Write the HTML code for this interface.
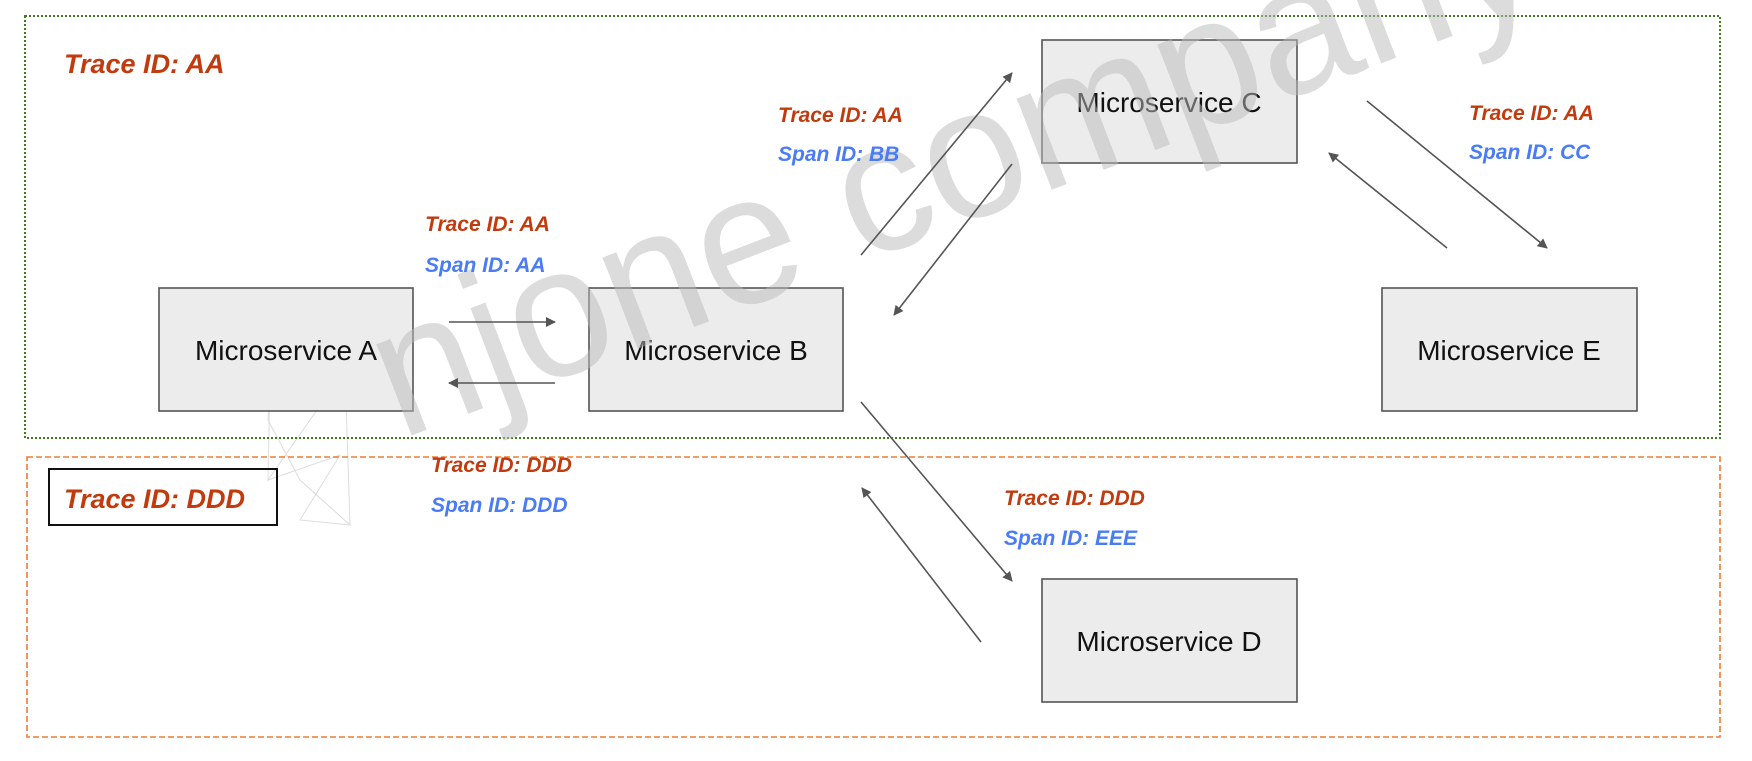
<!DOCTYPE html>
<html><head><meta charset="utf-8"><style>
html,body{margin:0;padding:0;background:#fff;}
svg{display:block;}
.box{fill:#ececec;stroke:#555;stroke-width:1.6;}
.bt{font-family:"Liberation Sans",sans-serif;font-size:28px;fill:#111;text-anchor:middle;}
.r{font-family:"Liberation Sans",sans-serif;font-weight:bold;font-style:italic;font-size:21px;fill:#c23b0e;}
.b{font-family:"Liberation Sans",sans-serif;font-weight:bold;font-style:italic;font-size:21px;fill:#4a7cf6;}
.ar{stroke:#555;stroke-width:1.6;fill:none;marker-end:url(#ah);}
</style></head><body>
<svg width="1752" height="761" viewBox="0 0 1752 761">
<defs><marker id="ah" markerWidth="10" markerHeight="10" refX="9" refY="5" orient="auto" markerUnits="userSpaceOnUse" viewBox="0 0 10 10"><path d="M0,0 L10,5 L0,10 z" fill="#555"/></marker></defs>
<g stroke="#ddd" stroke-width="1" fill="none"><path d="M270,380 L345,370 L350,525 L300,480 L268,420 Z M270,380 L268,480 L345,370 M268,480 L340,455 L300,520 L350,525"/></g>
<!-- group boxes -->
<rect x="25" y="16" width="1695" height="422" fill="none" stroke="#3f7a1e" stroke-width="2" stroke-dasharray="2,2"/>
<rect x="27" y="457" width="1693" height="280" fill="none" stroke="#ee7b35" stroke-width="1.6" stroke-dasharray="6,3"/>
<text class="r" x="64" y="73" style="font-size:27px">Trace ID: AA</text>
<rect x="49" y="469" width="228" height="56" fill="none" stroke="#111" stroke-width="2"/>
<text class="r" x="64" y="508" style="font-size:27px">Trace ID: DDD</text>
<!-- boxes -->
<rect class="box" x="159" y="288" width="254" height="123"/><text class="bt" x="286" y="360">Microservice A</text>
<rect class="box" x="589" y="288" width="254" height="123"/><text class="bt" x="716" y="360">Microservice B</text>
<rect class="box" x="1042" y="40" width="255" height="123"/><text class="bt" x="1169" y="112">Microservice C</text>
<rect class="box" x="1382" y="288" width="255" height="123"/><text class="bt" x="1509" y="360">Microservice E</text>
<rect class="box" x="1042" y="579" width="255" height="123"/><text class="bt" x="1169" y="651">Microservice D</text>
<!-- watermark -->
<text x="0" y="0" transform="translate(400,440) rotate(-21)" font-family="Liberation Sans,sans-serif" font-size="185" textLength="1230" lengthAdjust="spacingAndGlyphs" fill="#bbbbbb" opacity="0.5">njone company</text>
<!-- arrows -->
<line class="ar" x1="449" y1="322" x2="555" y2="322"/>
<line class="ar" x1="555" y1="383" x2="449" y2="383"/>
<line class="ar" x1="861" y1="255" x2="1012" y2="73"/>
<line class="ar" x1="1012" y1="164" x2="894" y2="315"/>
<line class="ar" x1="1367" y1="101" x2="1547" y2="248"/>
<line class="ar" x1="1447" y1="248" x2="1329" y2="153"/>
<line class="ar" x1="861" y1="402" x2="1012" y2="581"/>
<line class="ar" x1="981" y1="642" x2="862" y2="488"/>
<!-- labels -->
<text class="r" x="778" y="122">Trace ID: AA</text><text class="b" x="778" y="161">Span ID: BB</text>
<text class="r" x="425" y="231">Trace ID: AA</text><text class="b" x="425" y="272">Span ID: AA</text>
<text class="r" x="1469" y="120">Trace ID: AA</text><text class="b" x="1469" y="159">Span ID: CC</text>
<text class="r" x="431" y="472">Trace ID: DDD</text><text class="b" x="431" y="512">Span ID: DDD</text>
<text class="r" x="1004" y="505">Trace ID: DDD</text><text class="b" x="1004" y="545">Span ID: EEE</text>
</svg>
</body></html>
